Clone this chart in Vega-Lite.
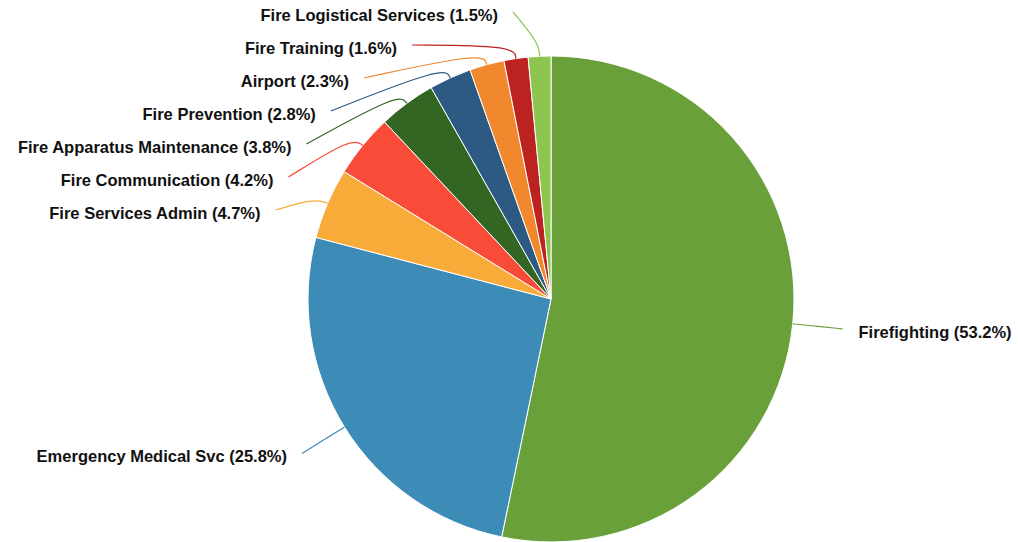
{
  "$schema": "https://vega.github.io/schema/vega-lite/v6.json",
  "width": 934,
  "height": 486,
  "autosize": {"type": "none"},
  "padding": {"left": 84, "top": 56, "right": 0, "bottom": 0},
  "background": "white",
  "config": {"view": {"stroke": null}},
  "data": {
    "values": [
      {"category": "Firefighting", "value": 53.2},
      {"category": "Emergency Medical Svc", "value": 25.8},
      {"category": "Fire Services Admin", "value": 4.7},
      {"category": "Fire Communication", "value": 4.2},
      {"category": "Fire Apparatus Maintenance", "value": 3.8},
      {"category": "Fire Prevention", "value": 2.8},
      {"category": "Airport", "value": 2.3},
      {"category": "Fire Training", "value": 1.6},
      {"category": "Fire Logistical Services", "value": 1.5}
    ]
  },
  "transform": [
    {"joinaggregate": [{"op": "sum", "field": "value", "as": "total"}, {"op": "count", "as": "n"}]},
    {"window": [{"op": "sum", "field": "value", "as": "cum"}, {"op": "row_number", "as": "rank"}], "sort": [{"field": "value", "order": "descending"}], "frame": [null, 0]},
    {"calculate": "2*PI*(datum.cum - datum.value/2)/datum.total", "as": "a"},
    {"calculate": "datum.category + ' (' + format(datum.value, '.1f') + '%)'", "as": "label"},
    {"calculate": "datum.a > 1.5*PI", "as": "stacked"},
    {"calculate": "datum.stacked ? -287 + 33*(datum.n - datum.rank) : -293*cos(datum.a)", "as": "ly"},
    {"calculate": "datum.stacked ? -sqrt(max(0, 289.5*289.5 - datum.ly*datum.ly)) : 293*sin(datum.a)", "as": "lx"},
    {"calculate": "243*sin(datum.a)", "as": "ex"},
    {"calculate": "-243*cos(datum.a)", "as": "ey"},
    {"calculate": "256*sin(datum.a)", "as": "mx"},
    {"calculate": "-256*cos(datum.a)", "as": "my"}
  ],
  "layer": [
    {
      "mark": {"type": "arc", "stroke": "white", "strokeWidth": 1},
      "encoding": {
        "theta": {"field": "value", "type": "quantitative", "stack": true},
        "color": {
          "field": "category", "type": "nominal", "legend": null,
          "scale": {
            "domain": ["Firefighting", "Emergency Medical Svc", "Fire Services Admin", "Fire Communication", "Fire Apparatus Maintenance", "Fire Prevention", "Airport", "Fire Training", "Fire Logistical Services"],
            "range": ["#6aa03a", "#3d8bb7", "#f9ab39", "#f84b38", "#346623", "#2c5a83", "#f2882d", "#bb2220", "#8dc550"]
          }
        },
        "order": {"field": "value", "sort": "descending"}
      }
    },
    {
      "transform": [
        {"calculate": "[datum.ex, datum.ey]", "as": "p0"},
        {"calculate": "[datum.mx, datum.my]", "as": "p1"},
        {"calculate": "[datum.lx, datum.ly]", "as": "p2"},
        {"fold": ["p0", "p1", "p2"], "as": ["pt", "xy"]},
        {"calculate": "datum.xy[0]", "as": "px"},
        {"calculate": "datum.xy[1]", "as": "py"}
      ],
      "mark": {"type": "line", "interpolate": "basis", "strokeWidth": 1.2},
      "encoding": {
        "x": {"field": "px", "type": "quantitative", "scale": {"domain": [-467, 467], "nice": false, "zero": false}, "axis": null},
        "y": {"field": "py", "type": "quantitative", "scale": {"domain": [-243, 243], "reverse": true, "nice": false, "zero": false}, "axis": null},
        "color": {"field": "category", "type": "nominal", "legend": null},
        "order": {"field": "pt"}
      }
    },
    {
      "transform": [{"filter": "datum.lx < 0"}, {"calculate": "datum.lx - 15", "as": "tx"}],
      "mark": {"type": "text", "align": "right", "baseline": "middle", "dy": 4, "font": "Liberation Sans", "fontWeight": "bold", "fontSize": 16.5, "color": "#111"},
      "encoding": {
        "x": {"field": "tx", "type": "quantitative"},
        "y": {"field": "ly", "type": "quantitative"},
        "text": {"field": "label"}
      }
    },
    {
      "transform": [{"filter": "datum.lx >= 0"}, {"calculate": "datum.lx + 16", "as": "tx"}],
      "mark": {"type": "text", "align": "left", "baseline": "middle", "dy": 4, "font": "Liberation Sans", "fontWeight": "bold", "fontSize": 16.5, "color": "#111"},
      "encoding": {
        "x": {"field": "tx", "type": "quantitative"},
        "y": {"field": "ly", "type": "quantitative"},
        "text": {"field": "label"}
      }
    }
  ]
}
